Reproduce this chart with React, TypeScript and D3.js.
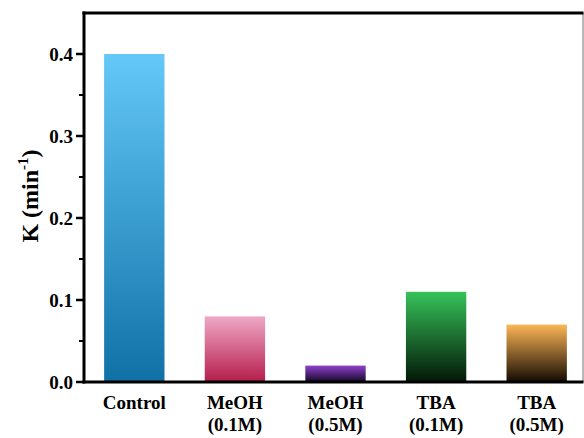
import React from "react";
import * as d3 from "d3";

const categories = ["Control", "MeOH (0.1M)", "MeOH (0.5M)", "TBA (0.1M)", "TBA (0.5M)"];
const labelLine1 = ["Control", "MeOH", "MeOH", "TBA", "TBA"];
const labelLine2 = ["", "(0.1M)", "(0.5M)", "(0.1M)", "(0.5M)"];
const values = [0.4, 0.08, 0.02, 0.11, 0.07];
const topColors = ["#64c8f8", "#efa8c6", "#9040cc", "#36c25a", "#fdb656"];
const bottomColors = ["#1071a6", "#b51d4c", "#140828", "#021806", "#140a02"];
const yTicks = [0, 0.1, 0.2, 0.3, 0.4];
const yMinorTicks = [0.05, 0.15, 0.25, 0.35];

const W = 584;
const H = 438;
const left = 84;
const right = 583;
const top = 13;
const bottom = 382;

const font = "'Liberation Serif', 'Times New Roman', serif";

export default function App() {
  const x = d3
    .scaleBand<string>()
    .domain(categories)
    .range([left, 587])
    .paddingInner(0.4)
    .paddingOuter(0.2);
  const y = d3.scaleLinear().domain([0, 0.45]).range([bottom, top]);

  return (
    <svg
      width={W}
      height={H}
      style={{ position: "absolute", left: 0, top: 0, background: "#fff", fontFamily: font }}
    >
      <defs>
        {categories.map((c, i) => (
          <linearGradient key={c} id={`g${i}`} x1="0" y1="0" x2="0" y2="1">
            <stop offset="0%" stopColor={topColors[i]} />
            <stop offset="100%" stopColor={bottomColors[i]} />
          </linearGradient>
        ))}
      </defs>
      {categories.map((c, i) => (
        <rect
          key={c}
          x={x(c)}
          y={y(values[i])}
          width={x.bandwidth()}
          height={y(0) - y(values[i])}
          fill={`url(#g${i})`}
        />
      ))}
      <line x1={right} x2={right} y1={top} y2={bottom} stroke="#888" strokeWidth={1.2} />
      <line x1={left - 1.5} x2={right + 0.5} y1={top} y2={top} stroke="#000" strokeWidth={3} />
      <line x1={left} x2={left} y1={top - 1.5} y2={bottom + 1.5} stroke="#000" strokeWidth={3} />
      <line x1={left - 1.5} x2={right + 0.5} y1={bottom} y2={bottom} stroke="#000" strokeWidth={3} />
      {yTicks.map((t) => (
        <g key={t}>
          <line x1={left - 8} x2={left} y1={y(t)} y2={y(t)} stroke="#000" strokeWidth={2.5} />
          <text
            x={left - 11}
            y={y(t)}
            dy="0.35em"
            textAnchor="end"
            fontSize={19}
            fontWeight="bold"
            style={{ fontFamily: font }}
          >
            {t.toFixed(1)}
          </text>
        </g>
      ))}
      {yMinorTicks.map((t) => (
        <line key={t} x1={left - 5} x2={left} y1={y(t)} y2={y(t)} stroke="#000" strokeWidth={2} />
      ))}
      {categories.map((c, i) => {
        const cx = (x(c) as number) + x.bandwidth() / 2;
        return (
          <text
            key={c}
            textAnchor="middle"
            fontSize={19}
            fontWeight="bold"
            style={{ fontFamily: font }}
          >
            <tspan x={cx} y={409}>
              {labelLine1[i]}
            </tspan>
            {labelLine2[i] && (
              <tspan x={cx} y={431}>
                {labelLine2[i]}
              </tspan>
            )}
          </text>
        );
      })}
      <text
        transform={`translate(38, 196) rotate(-90)`}
        textAnchor="middle"
        fontSize={24}
        fontWeight="bold"
        style={{ fontFamily: font }}
      >
        K (min
        <tspan dy="-10" fontSize={15}>-1</tspan>
        <tspan dy="10">)</tspan>
      </text>
    </svg>
  );
}
